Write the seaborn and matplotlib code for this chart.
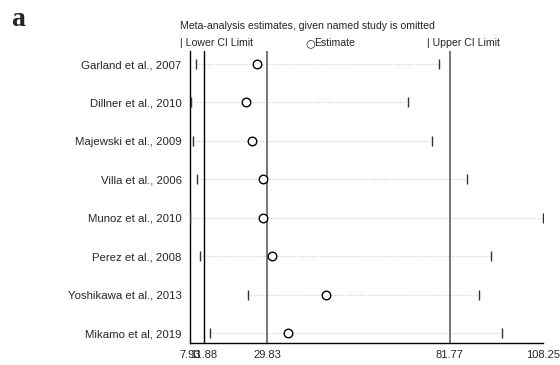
import matplotlib
matplotlib.use("Agg")
import matplotlib.pyplot as plt
import seaborn as sns
import pandas as pd

studies = ["Garland et al., 2007", "Dillner et al., 2010", "Majewski et al., 2009",
           "Villa et al., 2006", "Munoz et al., 2010", "Perez et al., 2008",
           "Yoshikawa et al., 2013", "Mikamo et al, 2019"]
lower = [9.54, 8.30, 8.78, 9.83, 7.93, 10.76, 24.36, 13.59]
estimate = [26.9, 23.79, 25.49, 28.8, 28.6, 31.35, 46.64, 35.88]
upper = [78.7, 69.86, 76.66, 86.57, 108.25, 93.37, 90.15, 96.49]
xticks = [7.93, 11.88, 29.83, 81.77, 108.25]
ref_lines = [11.88, 29.83, 81.77]

df = pd.DataFrame({"study": studies, "lower": lower, "estimate": estimate,
                   "upper": upper, "pos": range(len(studies))})

sns.set_style("white")
plt.rcParams["font.family"] = ["Liberation Sans", "DejaVu Sans"]

fig = plt.figure(figsize=(5.6, 3.65), dpi=100)
ax = fig.add_axes([190/560, 22/365, 353/560, 292/365])

# CI dotted lines
for _, r in df.iterrows():
    ax.plot([r.lower, r.upper], [r.pos, r.pos], color="#cccccc", lw=0.8,
            ls=(0, (1, 1.5)), zorder=1)

ax.axvline(ref_lines[0], color="black", lw=1.0, zorder=2)
for v in ref_lines[1:]:
    ax.axvline(v, color="#777777", lw=1.4, zorder=2)

sns.scatterplot(data=df, x="lower", y="pos", marker="|", s=45, color="#333333",
                linewidth=1.0, ax=ax, zorder=3)
sns.scatterplot(data=df, x="upper", y="pos", marker="|", s=45, color="#333333",
                linewidth=1.0, ax=ax, zorder=3)
sns.scatterplot(data=df, x="estimate", y="pos", marker="o", s=38,
                facecolor="white", edgecolor="black", linewidth=1.0, ax=ax, zorder=4)

ax.set_xlim(7.93, 108.25)
ax.set_ylim(7.26, -0.34)
ax.set_yticks(df["pos"])
ax.set_yticklabels(studies, fontsize=8.2)
ax.set_xticks(xticks)
ax.set_xticklabels([f"{v:.2f}" for v in xticks], fontsize=8)
ax.tick_params(axis="y", length=0, pad=6)
ax.tick_params(axis="x", length=4, width=1, direction="out", pad=1, color="black")
ax.set_xlabel("")
ax.set_ylabel("")
for s in ["top", "right"]:
    ax.spines[s].set_visible(False)
ax.spines["left"].set_color("black")
ax.spines["left"].set_linewidth(1.0)
ax.spines["bottom"].set_color("black")
ax.spines["bottom"].set_linewidth(1.0)

# header
fig.text(180/560, 1 - 26/365, "Meta-analysis estimates, given named study is omitted",
         fontsize=7.6, va="center", ha="left")
fig.text(180/560, 1 - 43/365, "| Lower CI Limit", fontsize=7.6, va="center", ha="left")
fig.text(305/560, 1 - 43/365, "\u25cb", fontsize=8, va="center", ha="left",
         family=["DejaVu Sans"])
fig.text(314/560, 1 - 43/365, "Estimate", fontsize=7.6, va="center", ha="left")
fig.text(427/560, 1 - 43/365, "| Upper CI Limit", fontsize=7.6, va="center", ha="left")

fig.text(11/560, 1 - 19/365, "a", fontsize=20, fontweight="bold",
         family=["Liberation Serif"], va="center", ha="left")

fig.savefig("out.png", dpi=100)
